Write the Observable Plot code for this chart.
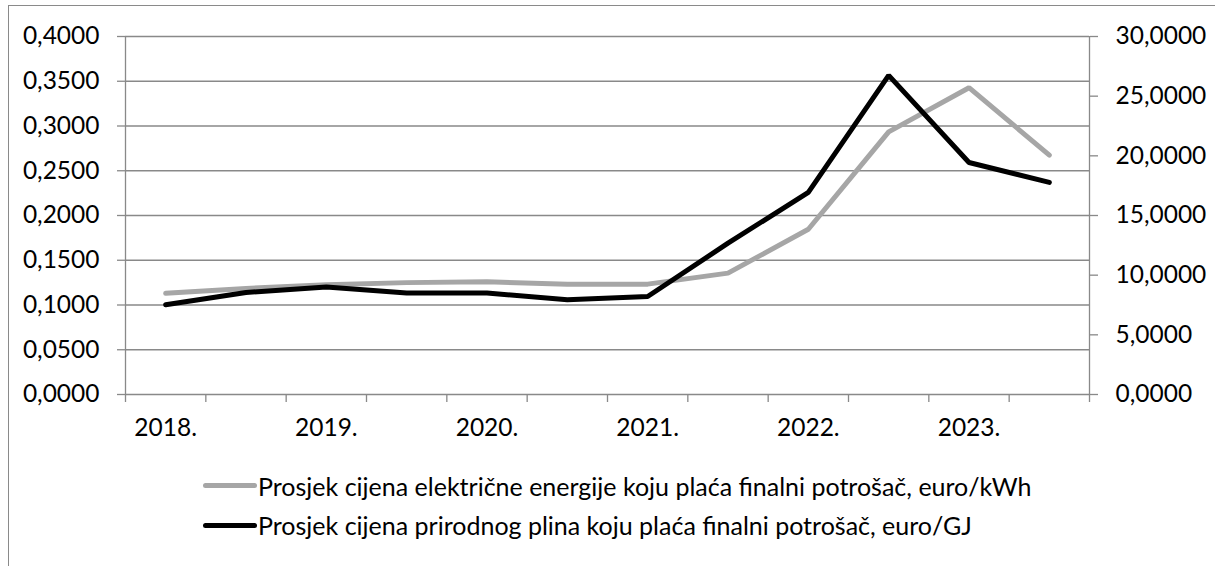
<!DOCTYPE html>
<html>
<head>
<meta charset="utf-8">
<script src="https://cdn.jsdelivr.net/npm/d3@7"></script>
<script src="https://cdn.jsdelivr.net/npm/@observablehq/plot@0.6"></script>
<style>
  html, body { margin: 0; padding: 0; background: #fff; }
  #wrap { position: relative; width: 1215px; height: 566px; overflow: hidden; font-family: Lato, sans-serif; }
  #frame { position: absolute; left: 8px; top: 5px; width: 1220px; height: 620px; border: 1.5px solid #8a8a8a; box-sizing: border-box; }
  #chart { position: absolute; left: 0; top: 0; }
  .leg { position: absolute; left: 203px; display: flex; align-items: center; font-size: 25px; color: #000; white-space: nowrap; }
  .leg .sw { width: 54px; height: 5px; border-radius: 3px; margin-right: 1px; }
</style>
</head>
<body>
<div id="wrap">
  <div id="frame"></div>
  <div id="chart"></div>
  <div id="legend"></div>
</div>
<script>
// Data
const xLabels = ["2018.", "2019.", "2020.", "2021.", "2022.", "2023."];
const electricity = [0.1130, 0.1185, 0.1226, 0.1250, 0.1259, 0.1233, 0.1233, 0.1356, 0.1846, 0.2934, 0.3428, 0.2674];
const gas = [7.52, 8.55, 9.00, 8.50, 8.50, 7.94, 8.21, 12.68, 16.94, 26.74, 19.44, 17.77];
const leftTicks = [0, 0.05, 0.10, 0.15, 0.20, 0.25, 0.30, 0.35, 0.40];
const rightTicks = [0, 5, 10, 15, 20, 25, 30];
const seriesNames = [
  "Prosjek cijena električne energije koju plaća finalni potrošač, euro/kWh",
  "Prosjek cijena prirodnog plina koju plaća finalni potrošač, euro/GJ"
];
const seriesColors = ["#a6a6a6", "#000000"];

const k = 0.4 / 30; // right axis (0–30) mapped onto left axis (0–0.4)
const fmt = v => (Math.round(v * 10000) / 10000).toFixed(4).replace(".", ",");
const grid = "#898989";

const elecData = electricity.map((v, i) => ({i, v}));
const gasData = gas.map((v, i) => ({i, v: v * k}));

const chart = Plot.plot({
  width: 1215,
  height: 446,
  marginLeft: 125,
  marginRight: 126,
  marginTop: 36,
  marginBottom: 52,
  x: {type: "linear", domain: [-0.5, 11.5], axis: null},
  y: {domain: [0, 0.4], axis: null},
  style: {fontFamily: "Lato, sans-serif", fontSize: "24.5px", color: "#000", background: "transparent", overflow: "visible"},
  marks: [
    Plot.ruleY(leftTicks, {stroke: grid, strokeWidth: 1.3}),
    Plot.ruleX([-0.5, 11.5], {stroke: grid, strokeWidth: 1.3}),
    Plot.axisY(leftTicks, {anchor: "left", tickSize: 8, tickPadding: 18, stroke: grid, strokeWidth: 1.3, fill: "#000", tickFormat: fmt, label: null}),
    Plot.axisY(rightTicks.map(v => v * k), {anchor: "right", tickSize: 8, tickPadding: 18, stroke: grid, strokeWidth: 1.3, fill: "#000", tickFormat: d => fmt(d / k), label: null}),
    Plot.axisX(d3.range(-0.5, 12, 1), {anchor: "bottom", tickSize: 8, stroke: grid, strokeWidth: 1.3, tickFormat: () => "", label: null}),
    Plot.axisX(d3.range(0, 12, 2), {anchor: "bottom", tickSize: 0, tickPadding: 24, fill: "#000", tickFormat: i => xLabels[i / 2], label: null}),
    Plot.line(elecData, {x: "i", y: "v", stroke: seriesColors[0], strokeWidth: 5, strokeLinejoin: "miter", strokeLinecap: "round"}),
    Plot.line(gasData, {x: "i", y: "v", stroke: seriesColors[1], strokeWidth: 5, strokeLinejoin: "miter", strokeLinecap: "round"})
  ]
});
document.getElementById("chart").appendChild(chart);

const legend = document.getElementById("legend");
const rowY = [485.7, 525];
seriesNames.forEach((name, j) => {
  const row = document.createElement("div");
  row.className = "leg";
  row.style.top = (rowY[j] - 16) + "px";
  row.style.height = "32px";
  const sw = document.createElement("span");
  sw.className = "sw";
  sw.style.background = seriesColors[j];
  const tx = document.createElement("span");
  tx.textContent = name;
  row.appendChild(sw);
  row.appendChild(tx);
  legend.appendChild(row);
});
</script>
</body>
</html>
